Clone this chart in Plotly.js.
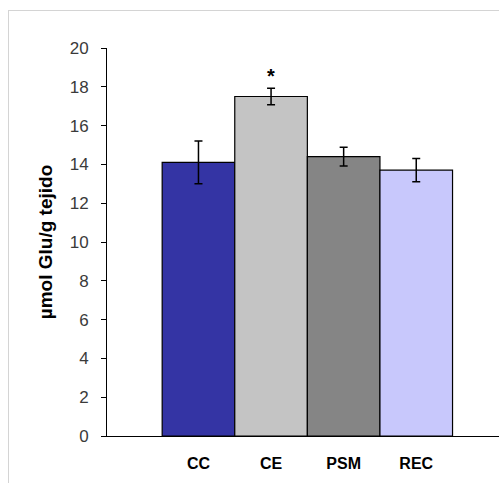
<!DOCTYPE html>
<html>
<head>
<meta charset="utf-8">
<script src="https://cdn.plot.ly/plotly-3.0.1.min.js"></script>
<style>
  html, body { margin: 0; padding: 0; background: #fff; }
  #wrap { position: relative; width: 499px; height: 483px; }
  #frame { position: absolute; left: 8px; top: 10px; width: 491px; height: 473px;
           border-top: 1px solid #d4d4d4; border-left: 1px solid #d4d4d4; box-sizing: border-box; }
  #chart { position: absolute; left: 0; top: 0; width: 499px; height: 483px; }
</style>
</head>
<body>
<div id="wrap">
  <div id="frame"></div>
  <div id="chart"></div>
</div>
<script>
const categories = ["CC", "CE", "PSM", "REC"];
const values = [14.1, 17.5, 14.4, 13.7];
const errors = [1.1, 0.42, 0.48, 0.6];
const barColors = ["#3434a4", "#c4c4c4", "#858585", "#c8c8fc"];
const yTicks = [0, 2, 4, 6, 8, 10, 12, 14, 16, 18, 20];
const significant = ["CE"];

const trace = {
  type: "bar",
  x: categories,
  y: values,
  marker: { color: barColors, line: { color: "#000", width: 1.2 } },
  error_y: { type: "data", array: errors, visible: true, color: "#000", thickness: 1.5, width: 4 },
  width: 1,
  hoverinfo: "none"
};

const annotations = significant.map(c => {
  const i = categories.indexOf(c);
  return {
    x: c, y: values[i] + errors[i], xref: "x", yref: "y",
    text: "<b>*</b>", showarrow: false, yanchor: "bottom", yshift: -1,
    font: { family: "Arial, Liberation Sans, sans-serif", size: 20, color: "#000" }
  };
});

const layout = {
  width: 499, height: 483,
  margin: { l: 107, r: 0, t: 48, b: 47 },
  paper_bgcolor: "rgba(0,0,0,0)",
  plot_bgcolor: "rgba(0,0,0,0)",
  showlegend: false,
  bargap: 0,
  font: { family: "Arial, Liberation Sans, sans-serif" },
  xaxis: {
    type: "category",
    range: [-1.26, 4.14],
    showline: true, linecolor: "#000", linewidth: 1,
    showgrid: false, zeroline: false,
    ticks: "", ticklabelstandoff: 13,
    tickfont: { family: "Arial, Liberation Sans, sans-serif", size: 16, color: "#000", weight: "bold" },
    fixedrange: true
  },
  yaxis: {
    range: [0, 20],
    tickvals: yTicks,
    ticktext: yTicks.map(String),
    showline: true, linecolor: "#000", linewidth: 1,
    showgrid: false, zeroline: false,
    ticks: "outside", ticklen: 5, tickwidth: 1, tickcolor: "#000",
    ticklabelstandoff: 9,
    tickfont: { family: "Arial, Liberation Sans, sans-serif", size: 17, color: "#3a3a3a" },
    title: {
      text: "<b>µmol Glu/g tejido</b>",
      font: { family: "Arial, Liberation Sans, sans-serif", size: 19, color: "#000" },
      standoff: 12
    },
    fixedrange: true
  },
  annotations: annotations
};

Plotly.newPlot("chart", [trace], layout, { displayModeBar: false, staticPlot: true });
</script>
</body>
</html>
